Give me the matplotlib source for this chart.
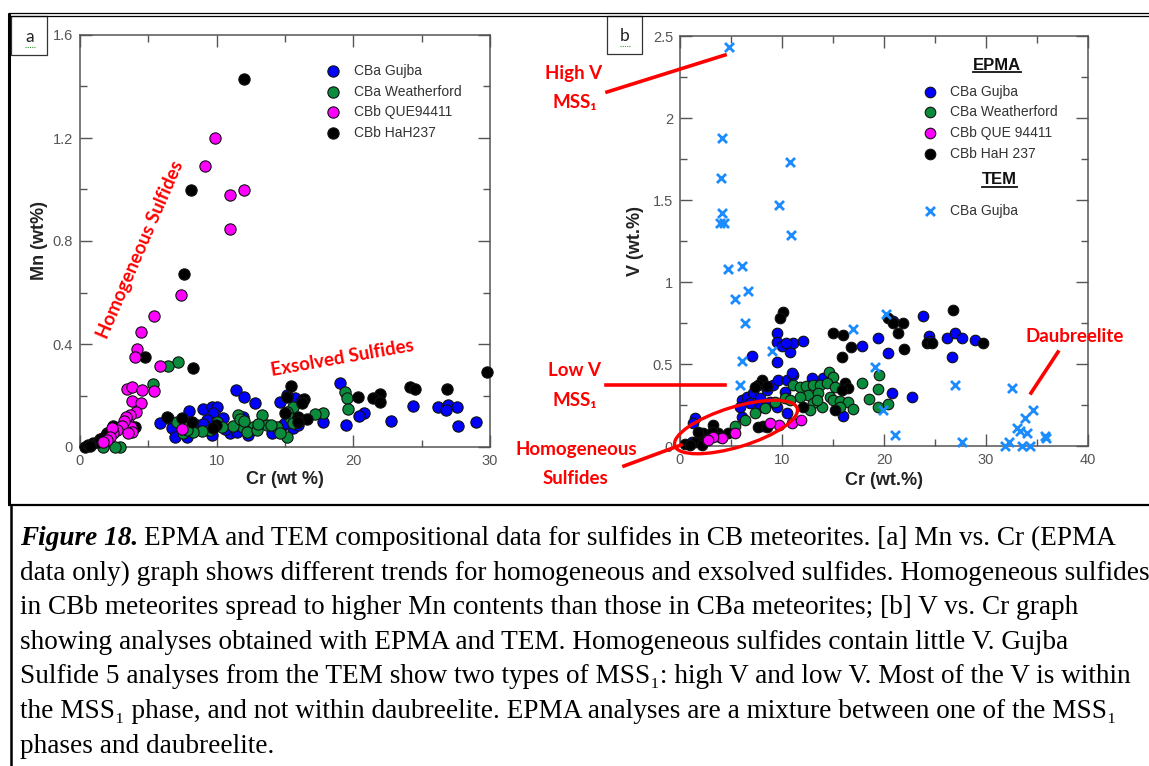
import matplotlib
matplotlib.use("Agg")
import matplotlib.pyplot as plt
from matplotlib.patches import Ellipse, Rectangle
from matplotlib.lines import Line2D
from matplotlib.transforms import Affine2D
from matplotlib.ticker import MultipleLocator, FixedLocator, FixedFormatter

# ---------------- data: panel a (Mn vs Cr, EPMA) ----------------
a_gujba = [(19.02, 0.247), (11.41, 0.221), (11.98, 0.193), (12.8, 0.17), (14.63, 0.176),
           (24.39, 0.159), (26.2, 0.157), (26.9, 0.163), (27.56, 0.157), (26.76, 0.144),
           (27.68, 0.082), (29.0, 0.098), (22.73, 0.102), (20.78, 0.133), (20.41, 0.12),
           (17.8, 0.098), (19.44, 0.085), (8.0, 0.141), (8.98, 0.146), (9.63, 0.157),
           (10.0, 0.154), (9.76, 0.131), (9.27, 0.105), (10.44, 0.111), (6.46, 0.111),
           (5.85, 0.092), (6.71, 0.073), (6.95, 0.04), (7.8, 0.04), (9.63, 0.047),
           (10.98, 0.053), (11.46, 0.06), (12.32, 0.047), (14.02, 0.056), (14.88, 0.085),
           (15.61, 0.073), (15.98, 0.085), (15.73, 0.189), (16.22, 0.183), (15.12, 0.202),
           (15.0, 0.092), (8.54, 0.085), (11.95, 0.118), (10.6, 0.07), (9.0, 0.09)]
a_weatherford = [(7.2, 0.332), (6.41, 0.316), (5.32, 0.244), (19.39, 0.215), (19.51, 0.189),
                 (19.59, 0.146), (17.8, 0.133), (17.2, 0.128), (13.34, 0.124), (11.59, 0.124),
                 (15.56, 0.157), (15.12, 0.137), (15.37, 0.111), (15.6, 0.092), (14.39, 0.079),
                 (13.66, 0.085), (12.68, 0.079), (11.95, 0.079), (11.22, 0.082), (12.2, 0.06),
                 (12.93, 0.066), (15.12, 0.04), (14.63, 0.053), (10.0, 0.098), (10.37, 0.079),
                 (9.51, 0.066), (8.9, 0.062), (8.29, 0.06), (7.56, 0.053), (7.8, 0.066),
                 (7.07, 0.098), (2.93, 0.001), (2.56, 0.001), (1.71, 0.001), (11.7, 0.11),
                 (12.0, 0.1), (13.0, 0.09), (14.0, 0.085)]
a_que94411 = [(9.88, 1.20), (9.15, 1.093), (11.0, 0.978), (11.98, 1.0), (11.0, 0.845),
              (7.37, 0.59), (5.44, 0.51), (4.49, 0.447), (4.17, 0.38), (4.02, 0.35),
              (5.85, 0.316), (3.41, 0.225), (3.80, 0.234), (4.56, 0.22), (5.39, 0.216),
              (3.83, 0.177), (4.44, 0.17), (4.10, 0.137), (3.66, 0.124), (3.51, 0.095),
              (3.71, 0.079), (3.37, 0.118), (3.22, 0.102), (3.05, 0.082), (2.68, 0.066),
              (2.44, 0.053), (2.32, 0.073), (2.2, 0.04), (1.95, 0.027), (1.71, 0.021),
              (3.78, 0.06), (3.54, 0.053), (7.44, 0.07)]
a_hah237 = [(11.98, 1.43), (8.12, 1.0), (7.63, 0.672), (4.73, 0.348), (8.27, 0.306),
            (29.8, 0.29), (15.44, 0.237), (24.12, 0.234), (24.5, 0.224), (26.85, 0.224),
            (20.34, 0.196), (21.95, 0.206), (21.46, 0.192), (21.95, 0.176), (15.12, 0.193),
            (16.39, 0.185), (16.22, 0.17), (15.0, 0.131), (15.98, 0.118), (16.59, 0.11),
            (15.93, 0.098), (6.34, 0.118), (8.17, 0.098), (7.44, 0.111), (9.95, 0.085),
            (9.76, 0.073), (0.37, 0.001), (0.61, 0.008), (0.98, 0.014), (1.34, 0.021),
            (1.71, 0.034), (1.95, 0.053), (2.2, 0.06), (2.56, 0.066), (2.44, 0.082),
            (1.9, 0.047), (1.46, 0.03), (0.73, 0.004), (4.02, 0.079)]

# ---------------- data: panel b (V vs Cr) ----------------
b_gujba = [(23.8, 0.793), (19.38, 0.657), (17.8, 0.61), (20.42, 0.565), (24.44, 0.671),
           (26.14, 0.657), (26.96, 0.691), (27.6, 0.657), (28.9, 0.646), (26.7, 0.545),
           (9.48, 0.687), (9.48, 0.636), (9.97, 0.61), (10.78, 0.575), (11.1, 0.626),
           (12.03, 0.642), (10.39, 0.626), (9.54, 0.514), (7.03, 0.549), (6.05, 0.28),
           (6.54, 0.3), (7.19, 0.321), (7.84, 0.29), (8.5, 0.341), (9.15, 0.372),
           (9.64, 0.402), (10.46, 0.402), (11.1, 0.433), (8.82, 0.27), (9.48, 0.24),
           (10.46, 0.2), (11.0, 0.443), (7.84, 0.24), (6.86, 0.26), (12.9, 0.413),
           (14.05, 0.413), (10.3, 0.331), (20.75, 0.325), (22.7, 0.3), (16.0, 0.183),
           (1.47, 0.169), (1.31, 0.138), (6.05, 0.179), (2.29, 0.026), (1.14, 0.026),
           (5.88, 0.24), (20.9, 0.76), (24.5, 0.64)]
b_weatherford = [(14.64, 0.453), (15.03, 0.419), (19.54, 0.433), (19.44, 0.346), (17.81, 0.386),
                 (11.1, 0.372), (11.76, 0.362), (12.4, 0.366), (13.07, 0.372), (13.73, 0.372),
                 (14.38, 0.382), (15.2, 0.362), (12.58, 0.311), (13.56, 0.321), (14.7, 0.3),
                 (15.03, 0.28), (15.69, 0.276), (16.5, 0.27), (17.0, 0.224), (15.69, 0.24),
                 (13.89, 0.24), (13.07, 0.26), (12.75, 0.22), (11.76, 0.3), (13.4, 0.28),
                 (18.56, 0.285), (19.44, 0.24), (20.36, 0.256), (10.33, 0.29), (9.31, 0.27),
                 (8.33, 0.23), (7.35, 0.2), (6.37, 0.159), (5.39, 0.122), (10.78, 0.28)]
b_que94411 = [(9.74, 0.128), (10.95, 0.142), (11.86, 0.159), (5.39, 0.081), (4.08, 0.047),
              (3.27, 0.057), (2.78, 0.037), (8.82, 0.138)]
b_hah237 = [(10.13, 0.819), (9.8, 0.778), (26.8, 0.829), (20.42, 0.778), (20.9, 0.748),
            (21.9, 0.752), (21.4, 0.687), (15.03, 0.687), (15.95, 0.677), (16.73, 0.606),
            (15.85, 0.541), (21.99, 0.589), (24.18, 0.626), (24.67, 0.626), (29.74, 0.63),
            (8.0, 0.402), (7.68, 0.372), (7.35, 0.358), (8.5, 0.366), (16.18, 0.382),
            (16.5, 0.352), (15.85, 0.341), (15.2, 0.22), (12.1, 0.24), (8.17, 0.122),
            (7.68, 0.118), (8.5, 0.114), (4.74, 0.077), (3.27, 0.128), (2.29, 0.077),
            (1.96, 0.047), (1.47, 0.026), (0.49, 0.012), (0.98, 0.006), (2.12, 0.006),
            (2.61, 0.037), (3.76, 0.077), (3.92, 0.057), (3.1, 0.087), (1.8, 0.087)]
b_tem_gujba = [(4.85, 2.43), (4.14, 1.88), (4.06, 1.635), (4.14, 1.42), (3.94, 1.358),
               (4.33, 1.358), (10.76, 1.73), (9.73, 1.47), (10.84, 1.287), (4.73, 1.079),
               (6.03, 1.099), (6.7, 0.947), (5.4, 0.896), (6.34, 0.753), (6.05, 0.518),
               (5.88, 0.372), (8.99, 0.58), (16.93, 0.711), (20.2, 0.805), (19.1, 0.484),
               (19.9, 0.22), (21.1, 0.067), (26.96, 0.372), (27.6, 0.026), (32.5, 0.352),
               (34.6, 0.22), (33.8, 0.169), (33.0, 0.112), (34.0, 0.077), (33.3, 0.09),
               (32.3, 0.026), (31.9, 0.0), (33.5, 0.0), (34.3, 0.0), (35.8, 0.061),
               (35.9, 0.051)]

legend_a = ["CBa Gujba", "CBa Weatherford", "CBb QUE94411", "CBb HaH237"]
legend_b = ["CBa Gujba", "CBa Weatherford", "CBb QUE 94411", "CBb HaH 237"]
a_xticks = [0, 10, 20, 30]
a_yticks = [0, 0.4, 0.8, 1.2, 1.6]
a_yticklabels = ["0", "0.4", "0.8", "1.2", "1.6"]
b_xticks = [0, 10, 20, 30, 40]
b_yticks = [0, 0.5, 1, 1.5, 2, 2.5]
b_yticklabels = ["0", "0.5", "1", "1.5", "2", "2.5"]

caption_lines = [
    "EPMA and TEM compositional data for sulfides in CB meteorites. [a] Mn vs. Cr (EPMA",
    "data only) graph shows different trends for homogeneous and exsolved sulfides. Homogeneous sulfides",
    "in CBb meteorites spread to higher Mn contents than those in CBa meteorites; [b] V vs. Cr graph",
    "showing analyses obtained with EPMA and TEM. Homogeneous sulfides contain little V. Gujba",
    "Sulfide 5 analyses from the TEM show two types of MSS\u2081: high V and low V. Most of the V is within",
    "the MSS\u2081 phase, and not within daubreelite. EPMA analyses are a mixture between one of the MSS\u2081",
    "phases and daubreelite.",
]

COLORS = ["#0000ff", "#0b8c3c", "#ff00ff", "#000000"]
TEM_COLOR = "#1a8cff"
RED = "#ff0000"
W, H = 1149, 766

fig = plt.figure(figsize=(W / 100, H / 100), dpi=100)
fig.patch.set_facecolor("white")


def F(x, y):
    return x / W, 1 - y / H


SANS = ["Liberation Sans", "DejaVu Sans"]
RFONT = ["Lato", "DejaVu Sans"]

axa = fig.add_axes([80 / W, 1 - 447 / H, 410 / W, 412 / H])
axb = fig.add_axes([680 / W, 1 - 446 / H, 408 / W, 410 / H])


def style(ax, xlim, ylim, xt, yt, ytl, xminor, yminor):
    ax.set_xlim(xlim)
    ax.set_ylim(ylim)
    ax.xaxis.set_major_locator(FixedLocator(xt))
    ax.xaxis.set_major_formatter(FixedFormatter([f"{v:g}" for v in xt]))
    ax.yaxis.set_major_locator(FixedLocator(yt))
    ax.yaxis.set_major_formatter(FixedFormatter(ytl))
    ax.xaxis.set_minor_locator(MultipleLocator(xminor))
    ax.yaxis.set_minor_locator(MultipleLocator(yminor))
    ax.tick_params(which="both", direction="in", top=True, right=True,
                   color="#555555", labelcolor="#555555", width=1.0)
    ax.tick_params(which="major", length=8.5, labelsize=10.5, pad=5)
    ax.tick_params(which="minor", length=5)
    for lab in ax.get_xticklabels() + ax.get_yticklabels():
        lab.set_family(SANS)
    for s in ax.spines.values():
        s.set_color("#555555")
        s.set_linewidth(1.1)


style(axa, (0, 30), (0, 1.6), a_xticks, a_yticks, a_yticklabels, 5, 0.2)
style(axb, (0, 40), (0, 2.5), b_xticks, b_yticks, b_yticklabels, 5, 0.25)

lab_kw = dict(fontsize=13, fontweight="bold", color="#222222", family=SANS)
axa.set_xlabel("Cr (wt %)", va="center", **lab_kw)
axa.xaxis.set_label_coords(0.5, -0.08)
axa.set_ylabel("Mn (wt%)", va="center", **lab_kw)
axa.yaxis.set_label_coords(-0.098, 0.5)
axb.set_xlabel("Cr (wt.%)", va="center", **lab_kw)
axb.xaxis.set_label_coords(0.5, -0.085)
axb.set_ylabel("V (wt.%)", va="center", **lab_kw)
axb.yaxis.set_label_coords(-0.108, 0.5)

# scatter panel a
order_a = [(a_gujba, 0), (a_weatherford, 1), (a_hah237, 3), (a_que94411, 2)]
for data, ci in order_a:
    xs = [p[0] for p in data]
    ys = [p[1] for p in data]
    axa.scatter(xs, ys, s=66, c=COLORS[ci], edgecolors="#111111", linewidths=0.8,
                clip_on=False, zorder=3)

order_b = [(b_gujba, 0), (b_weatherford, 1), (b_hah237, 3), (b_que94411, 2)]
for data, ci in order_b:
    xs = [p[0] for p in data]
    ys = [p[1] for p in data]
    axb.scatter(xs, ys, s=58, c=COLORS[ci], edgecolors="#111111", linewidths=0.8,
                clip_on=False, zorder=3)
axb.scatter([p[0] for p in b_tem_gujba], [p[1] for p in b_tem_gujba], marker="x",
            s=42, c=TEM_COLOR, linewidths=2.0, clip_on=False, zorder=4)

# legends (manual)
leg_text_kw = dict(fontsize=10, color="#333333", family=SANS, va="center", ha="left")
for i, (lab, yf) in enumerate(zip(legend_a, [0.913, 0.862, 0.813, 0.762])):
    axa.scatter([0.617], [yf], s=66, c=COLORS[i], edgecolors="#111111", linewidths=0.8,
                transform=axa.transAxes, zorder=5)
    axa.text(0.668, yf, lab, transform=axa.transAxes, **leg_text_kw)

for i, (lab, yf) in enumerate(zip(legend_b, [0.864, 0.815, 0.763, 0.712])):
    axb.scatter([0.613], [yf], s=58, c=COLORS[i], edgecolors="#111111", linewidths=0.8,
                transform=axb.transAxes, zorder=5)
    axb.text(0.662, yf, lab, transform=axb.transAxes, **leg_text_kw)
axb.scatter([0.613], [0.574], marker="x", s=42, c=TEM_COLOR, linewidths=2.0,
            transform=axb.transAxes, zorder=5)
axb.text(0.662, 0.574, "CBa Gujba", transform=axb.transAxes, **leg_text_kw)
t_epma = axb.text(0.776, 0.929, "EPMA", transform=axb.transAxes, fontsize=12,
                  fontweight="bold", color="#111111", family=SANS, ha="center", va="center")
t_tem = axb.text(0.784, 0.650, "TEM", transform=axb.transAxes, fontsize=12,
                 fontweight="bold", color="#111111", family=SANS, ha="center", va="center")

# red annotations panel a
axa.text(4.39, 0.765, "Homogeneous Sulfides", rotation=66.5, color=RED, fontsize=13.5,
         fontweight="bold", family=RFONT, ha="center", va="center", rotation_mode="anchor")
axa.text(19.17, 0.346, "Exsolved Sulfides", rotation=10, color=RED, fontsize=13.5,
         fontweight="bold", family=RFONT, ha="center", va="center", rotation_mode="anchor")

# red annotations panel b (figure level)
rkw = dict(color=RED, fontsize=13.5, fontweight="bold", family=RFONT, ha="center", va="center")
fig.text(*F(574, 74), "High V", **rkw)
fig.text(*F(575, 103), "MSS\u2081", **rkw)
fig.text(*F(575, 371), "Low V", **rkw)
fig.text(*F(575, 400), "MSS\u2081", **rkw)
fig.text(*F(576, 449), "Homogeneous", **rkw)
fig.text(*F(575, 478), "Sulfides", **rkw)
fig.text(*F(1075, 337), "Daubreelite", **rkw)

for (x1, y1, x2, y2) in [(607, 92, 725, 55), (606, 385, 725, 385),
                         (624, 466, 681, 445), (1031, 393, 1058, 352)]:
    fig.add_artist(Line2D([x1 / W, x2 / W], [1 - y1 / H, 1 - y2 / H],
                          transform=fig.transFigure, color=RED, lw=2.6, zorder=10))

pix = Affine2D().scale(1 / W, 1 / H) + fig.transFigure
fig.add_artist(Ellipse((736, H - 427), 128, 40, angle=17, fill=False, edgecolor=RED,
                       lw=2.4, transform=pix, zorder=10))


# frames
def hline(y, x1, x2, lw, color="black"):
    fig.add_artist(Line2D([x1 / W, x2 / W], [1 - y / H, 1 - y / H], transform=fig.transFigure,
                          color=color, lw=lw, solid_capstyle="butt"))


def vline(x, y1, y2, lw, color="black"):
    fig.add_artist(Line2D([x / W, x / W], [1 - y1 / H, 1 - y2 / H], transform=fig.transFigure,
                          color=color, lw=lw, solid_capstyle="butt"))


hline(13.2, 8, W, 0.9)
hline(15.6, 8, W, 0.9)
vline(9.2, 13, 505, 2.2)
hline(505, 8, W, 1.6)
vline(11, 505, H, 1.8)

for (x0, y0, x1, y1, lab, cx, cy) in [(11, 16, 46.5, 55, "a", 30, 37),
                                      (607, 16, 641.5, 53.5, "b", 625, 36)]:
    fig.add_artist(Rectangle((x0 / W, 1 - y1 / H), (x1 - x0) / W, (y1 - y0) / H,
                             transform=fig.transFigure, fill=False, edgecolor="#333333", lw=0.9))
    fig.text(*F(cx, cy), lab, fontsize=12.5, color="#222222", family=["Lato", "DejaVu Sans"],
             ha="center", va="center")
    fig.add_artist(Line2D([(cx - 5) / W, (cx + 5) / W], [1 - (cy + 10) / H, 1 - (cy + 10) / H],
                          transform=fig.transFigure, color="#3aa03a", lw=0.8, ls=(0, (1, 1))))

# caption
SERIF = ["Liberation Serif", "DejaVu Serif"]
cap_size = 19.6
base0 = 545
step = 34.6
fig.canvas.draw()
renderer = fig.canvas.get_renderer()
t0 = fig.text(*F(20, base0), "Figure 18.", fontsize=cap_size, family=SERIF,
              fontweight="bold", fontstyle="italic", va="baseline", ha="left")
ext = t0.get_window_extent(renderer)
x_after = ext.x1 + 6
for i, line in enumerate(caption_lines):
    x = x_after if i == 0 else 20
    fig.text(x / W, 1 - (base0 + i * step) / H, line, fontsize=cap_size, family=SERIF,
             va="baseline", ha="left", color="black")

# underline EPMA / TEM
fig.canvas.draw()
for t in (t_epma, t_tem):
    bb = t.get_window_extent(renderer)
    yv = bb.y0 + 0.5
    fig.add_artist(Line2D([bb.x0 / W, bb.x1 / W], [yv / H, yv / H],
                          transform=fig.transFigure, color="#111111", lw=1.3))

fig.savefig("out.png", dpi=100)
